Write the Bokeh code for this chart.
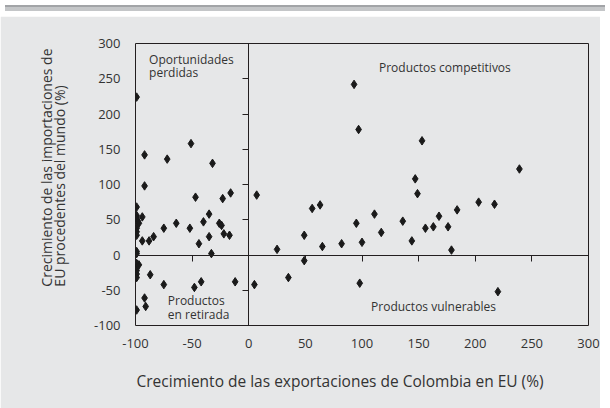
from bokeh.plotting import figure
from bokeh.models import LinearAxis, Label, Div, FixedTicker, Range1d, CustomJSTickFormatter, Title
from bokeh.layouts import column
from bokeh.embed import file_html
from bokeh.resources import INLINE

# Crecimiento de las exportaciones de Colombia en EU (%)
export_growth = [
    -99, -92, -72, -51, -32, -92, -47, -23, -16,
    -99, -99, -99, -94, -98, -97, -99, -99, -99,
    -35, -40, -26, -24, -52, -75, -64,
    -94, -88, -84, -44, -35, -33, -22, -17,
    -99, -99,
    -97, -99, -99, -99, -99, -99,
    -87, -75, -48, -42, -12, -92, -91, -99,
    7, 5, 25, 35, 49, 49, 56, 63, 65, 82, 93, 97, 95, 98, 100, 111,
    117, 136, 144, 147, 149, 153, 156, 163, 168, 176, 179, 184, 203, 217, 220, 239,
]
# Crecimiento de las importaciones de EU procedentes del mundo (%)
import_growth = [
    224, 142, 136, 158, 130, 98, 82, 80, 88,
    68, 56, 52, 54, 48, 45, 38, 33, 28,
    58, 47, 45, 42, 38, 38, 45,
    20, 20, 26, 16, 26, 2, 30, 28,
    5, 2,
    -14, -12, -18, -22, -27, -32,
    -28, -42, -46, -38, -38, -61, -73, -78,
    85, -42, 8, -32, 28, -8, 66, 71, 12, 16, 242, 178, 45, -40, 18, 58,
    32, 48, 20, 108, 87, 162, 38, 40, 55, 40, 7, 64, 75, 72, -52, 122,
]
tick_values = [-100, -50, 0, 50, 100, 150, 200, 250, 300]
quadrant_labels = ["Oportunidades\nperdidas", "Productos competitivos",
                   "Productos\nen retirada", "Productos vulnerables"]
x_title = "Crecimiento de las exportaciones de Colombia en EU (%)"
y_title = "Crecimiento de las importaciones de\nEU procedentes del mundo (%)"

BG = "#e6e7e8"
INK = "#231f20"
TXT = "#333333"
FONT = "Open Sans"

p = figure(width=600, height=394,
           x_range=Range1d(-100, 300), y_range=Range1d(-100, 300),
           output_backend="svg", toolbar_location=None,
           min_border_left=135, min_border_right=12,
           min_border_top=27, min_border_bottom=85,
           background_fill_color=BG, border_fill_color=BG,
           outline_line_color=INK, outline_line_width=1)
p.grid.visible = False

plain = CustomJSTickFormatter(code="return tick.toString()")
blank = CustomJSTickFormatter(code="return ''")

# primary axes: labels only
for ax in (p.xaxis[0], p.yaxis[0]):
    ax.ticker = FixedTicker(ticks=tick_values)
    ax.formatter = plain
    ax.major_tick_out = 0
    ax.major_tick_in = 0
    ax.minor_tick_out = 0
    ax.minor_tick_in = 0
    ax.axis_line_color = None
    ax.major_label_text_font = FONT
    ax.major_label_text_font_size = "13px"
    ax.major_label_text_color = TXT
p.yaxis[0].major_label_standoff = 15
p.xaxis[0].major_label_standoff = 13

# crossing axes at zero
ax_v = LinearAxis(fixed_location=0, ticker=FixedTicker(ticks=tick_values),
                  formatter=blank, major_tick_out=6, major_tick_in=0,
                  minor_tick_out=0, minor_tick_in=0, major_label_standoff=0,
                  axis_line_color=INK, major_tick_line_color=INK)
p.add_layout(ax_v, "left")
ax_h = LinearAxis(fixed_location=0, ticker=FixedTicker(ticks=tick_values),
                  formatter=blank, major_tick_out=6, major_tick_in=0,
                  minor_tick_out=0, minor_tick_in=0, major_label_standoff=0,
                  axis_line_color=INK, major_tick_line_color=INK)
p.add_layout(ax_h, "below")

p.scatter(export_growth, import_growth, marker="diamond", size=8.5,
          color="#1a1a1a")

# quadrant labels
for txt, x, y in zip(quadrant_labels, [-88, 115, -71.5, 108], [290, 278, -52, -60.5]):
    p.add_layout(Label(x=x, y=y, text=txt, text_font=FONT, text_font_size="12px",
                       text_color=TXT, text_align="left", text_baseline="top",
                       text_line_height=0.82))

# axis titles
p.add_layout(Title(text=x_title, align="left", offset=1, standoff=34, text_font=FONT,
                   text_font_size="15.5px", text_font_style="normal",
                   text_color=TXT), "below")
p.add_layout(Title(text=y_title, align="right", offset=5, standoff=44, text_font=FONT,
                   text_font_size="14px", text_font_style="normal",
                   text_color=TXT, text_line_height=0.7), "left")

stripe = Div(text="", width=600, height=6,
             styles={"background-color": "#c4c6c8",
                     "border-top": "2px solid #a2a4a7",
                     "box-sizing": "border-box"})

layout = column(stripe, p, spacing=0)
open("out.html", "w").write(file_html(layout, INLINE))
